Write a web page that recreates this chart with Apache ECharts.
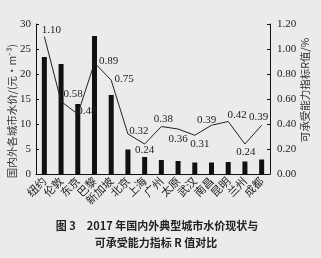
<!DOCTYPE html>
<html><head><meta charset="utf-8">
<script src="https://cdn.jsdelivr.net/npm/echarts@6/dist/echarts.min.js"></script>
<style>html,body{margin:0;padding:0;background:#ebebeb;}#c{width:321px;height:258px;}</style>
</head><body><div id="c"></div>
<script>
const cities = ['纽约','伦敦','东京','巴黎','新加坡','北京','上海','广州','太原','武汉','南昌','昆明','兰州','成都'];
const waterPrice = [23.4, 22.0, 14.0, 27.6, 15.8, 4.9, 3.4, 2.8, 2.6, 2.3, 2.3, 2.4, 2.5, 2.9];
const rValue = [1.10, 0.58, 0.48, 0.89, 0.75, 0.32, 0.24, 0.38, 0.36, 0.31, 0.39, 0.42, 0.24, 0.39];
const leftTicks = {min: 0, max: 30, interval: 5};
const rightTicks = {min: 0, max: 1.2, interval: 0.2};
const labelOffsets = [[7,-6],[12,-7],[9,-3],[14,-2],[13,-1],[11,-3],[0,6],[2,-7],[0,10],[5,9],[-5,-5],[9,-6],[1,8],[-3,-8]];

const serif = 'Liberation Serif';
const cjk = 'Noto Sans CJK SC';
const chart = echarts.init(document.getElementById('c'), null, {renderer:'canvas'});
chart.setOption({
  backgroundColor: '#ebebeb',
  animation: false,
  grid: {left: 36, right: 51, top: 24, bottom: 84},
  xAxis: {
    type: 'category', data: cities,
    axisLine: {lineStyle: {color: '#111', width: 1}},
    axisTick: {inside: true, length: 3, lineStyle: {color: '#111'}},
    axisLabel: {rotate: 45, fontSize: 11, color: '#222', fontFamily: cjk, margin: 5, interval: 0}
  },
  yAxis: [{
    type: 'value', min: leftTicks.min, max: leftTicks.max, interval: leftTicks.interval,
    splitLine: {show: false},
    axisLine: {show: true, lineStyle: {color: '#111'}},
    axisTick: {show: true, inside: true, length: 3, lineStyle: {color: '#111'}},
    axisLabel: {fontSize: 11, color: '#222', fontFamily: serif, margin: 5}
  }, {
    type: 'value', min: rightTicks.min, max: rightTicks.max, interval: rightTicks.interval,
    position: 'right',
    splitLine: {show: false},
    axisLine: {show: true, lineStyle: {color: '#111'}},
    axisTick: {show: true, inside: true, length: 3, lineStyle: {color: '#111'}},
    axisLabel: {fontSize: 11, color: '#222', fontFamily: serif, margin: 7, formatter: v => v.toFixed(2)}
  }],
  series: [{
    type: 'bar', data: waterPrice, barWidth: 5, itemStyle: {color: '#111'}, yAxisIndex: 0, z: 2
  }, {
    type: 'line', yAxisIndex: 1, z: 3,
    data: rValue.map((v, i) => ({value: v, label: {offset: labelOffsets[i]}})),
    symbol: 'circle', symbolSize: 0.1, showSymbol: true,
    lineStyle: {color: '#222', width: 1},
    itemStyle: {color: '#222'},
    label: {show: true, position: 'inside', fontSize: 11, fontFamily: serif, color: '#222',
      formatter: p => p.value.toFixed(2)}
  }],
  graphic: [{
    type: 'text', x: 12, y: 111, rotation: Math.PI/2,
    style: {text: '国内外各城市水价/(元·m⁻³)', fontSize: 10.5, fontFamily: cjk, fill: '#333', align: 'center', verticalAlign: 'middle'}
  }, {
    type: 'text', x: 305, y: 90, rotation: Math.PI/2,
    style: {text: '可承受能力指标R值/%', fontSize: 10.5, fontFamily: cjk, fill: '#333', align: 'center', verticalAlign: 'middle'}
  }, {
    type: 'text', x: 157, y: 226,
    style: {text: '图 3　2017 年国内外典型城市水价现状与', fontSize: 11, fontWeight: 'bold', fontFamily: cjk, fill: '#222', align: 'center', verticalAlign: 'middle'}
  }, {
    type: 'text', x: 156, y: 243,
    style: {text: '可承受能力指标 R 值对比', fontSize: 11, fontWeight: 'bold', fontFamily: cjk, fill: '#222', align: 'center', verticalAlign: 'middle'}
  }]
});
</script>
</body></html>
